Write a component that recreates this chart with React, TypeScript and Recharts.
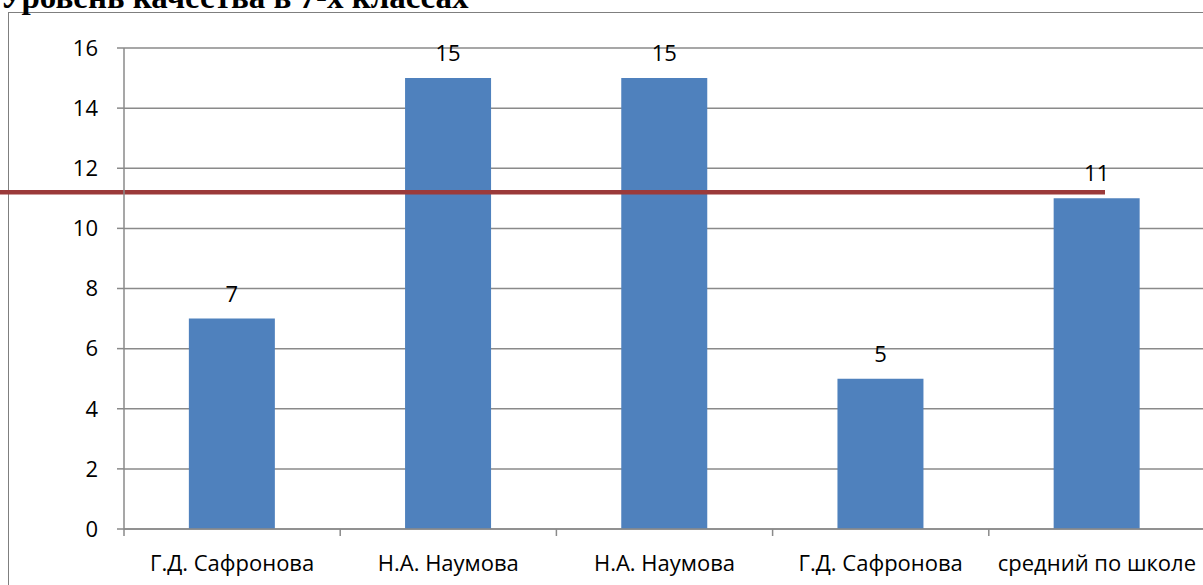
import React from "react";
import {
  BarChart,
  Bar,
  XAxis,
  YAxis,
  CartesianGrid,
  LabelList,
  ReferenceLine,
} from "recharts";

const TITLE = "Уровень качества в 7-х классах";
const TEACHERS = ["Г.Д. Сафронова", "Н.А. Наумова", "Н.А. Наумова", "Г.Д. Сафронова", "средний по школе"];
const QUALITY = [7, 15, 15, 5, 11];
const Y_TICKS = [0, 2, 4, 6, 8, 10, 12, 14, 16];
const AVERAGE_MARK = 11.2;

const BAR_BLUE = "#4f81bd";
const LINE_RED = "#9b3a3a";
const GRID_GRAY = "#8a8a8a";
const FONT = "'Open Sans', 'Noto Sans', sans-serif";
const FONT_SIZE = 22;

const chartData = TEACHERS.map((name, i) => ({ name, value: QUALITY[i] }));

// category labels sit in the middle, tick marks on the band boundaries (Excel style)
function CategoryTick(props: any) {
  const { x, y, payload, width, visibleTicksCount } = props;
  const band = width && visibleTicksCount ? width / visibleTicksCount : (payload?.offset ?? 0) * 2;
  const edge = x - band / 2;
  return (
    <g>
      <line x1={edge} x2={edge} y1={y} y2={y + 7} stroke={GRID_GRAY} strokeWidth={1.5} />
      <text x={x} y={y + 42} textAnchor="middle" fill="#000" fontSize={FONT_SIZE} fontFamily={FONT}>
        {payload.value}
      </text>
    </g>
  );
}

function AverageLine(props: any) {
  const { x1, x2, y1 } = props;
  return (
    <line x1={x1 - 124} x2={x2 - 100} y1={y1} y2={y1} stroke={LINE_RED} strokeWidth={4.5} />
  );
}

export default function App() {
  return (
    <div style={{ position: "relative", width: 1203, height: 585, overflow: "hidden", background: "#fff" }}>
      <style>{`body{margin:0;overflow:hidden;}`}</style>
      <div
        style={{
          position: "absolute",
          left: 8,
          top: 12,
          width: 1300,
          height: 700,
          border: "1px solid #7f7f7f",
        }}
      />
      <div
        style={{
          position: "absolute",
          left: 0,
          top: -18.6,
          fontFamily: "'Liberation Serif', 'Times New Roman', serif",
          fontWeight: "bold",
          fontSize: 33,
          lineHeight: "33px",
          whiteSpace: "nowrap",
          color: "#000",
        }}
      >
        {TITLE}
      </div>
      <div style={{ position: "absolute", left: 0, top: 0 }}>
        <BarChart
          width={1205}
          height={585}
          data={chartData}
          margin={{ top: 48, right: 0, bottom: 0, left: 0 }}
          barCategoryGap="30%"
        >
          <CartesianGrid vertical={false} stroke={GRID_GRAY} strokeWidth={1.5} />
          <XAxis
            dataKey="name"
            height={56}
            interval={0}
            tickSize={0}
            tickMargin={0}
            tickLine={false}
            axisLine={{ stroke: GRID_GRAY, strokeWidth: 1.5 }}
            tick={<CategoryTick />}
          />
          <YAxis
            width={124}
            domain={[0, 16]}
            ticks={Y_TICKS}
            interval={0}
            tickSize={7}
            tickMargin={19}
            axisLine={{ stroke: GRID_GRAY, strokeWidth: 1.5 }}
            tickLine={{ stroke: GRID_GRAY, strokeWidth: 1.5 }}
            tick={{ fill: "#000", fontSize: FONT_SIZE, fontFamily: FONT }}
          />
          <Bar dataKey="value" fill={BAR_BLUE} isAnimationActive={false}>
            <LabelList
              dataKey="value"
              position="top"
              offset={17}
              fill="#000"
              fontSize={FONT_SIZE}
              fontFamily={FONT}
            />
          </Bar>
          <ReferenceLine y={AVERAGE_MARK} ifOverflow="visible" shape={<AverageLine />} />
        </BarChart>
      </div>
    </div>
  );
}
